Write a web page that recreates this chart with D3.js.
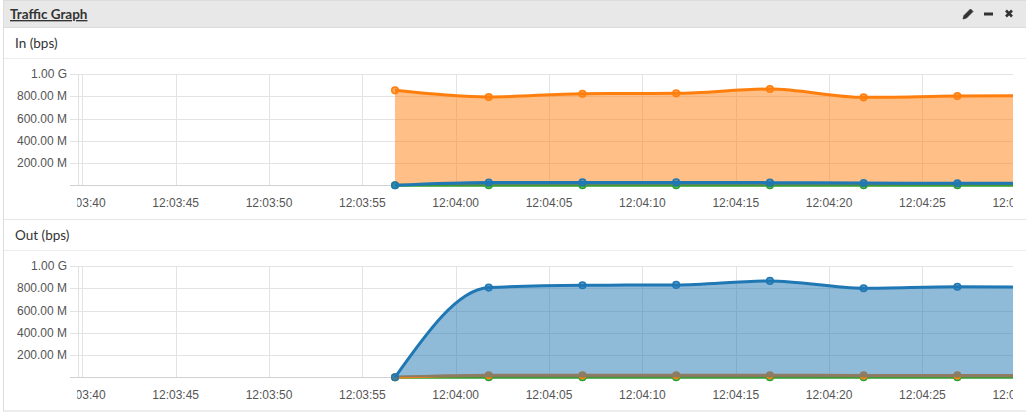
<!DOCTYPE html>
<html>
<head>
<meta charset="utf-8">
<script src="https://cdn.jsdelivr.net/npm/d3@7"></script>
<style>
  html, body { margin: 0; padding: 0; background: #fff; }
  svg { display: block; }
</style>
</head>
<body>
<svg id="chart" width="1026" height="417"></svg>
<script>
// ---------- data ----------
const sampleTimes = ["12:03:56.750", "12:04:01.770", "12:04:06.790", "12:04:11.810",
                     "12:04:16.830", "12:04:21.850", "12:04:26.870", "12:04:31.890"];
const windowStart = "12:03:39.770";
const windowEnd = "12:04:29.850";

// In (bps)
const inSeriesA = [853e6, 793e6, 823e6, 826e6, 865e6, 790e6, 802e6, 806e6]; // orange
const inSeriesB = [0, 25e6, 26e6, 26e6, 24e6, 20e6, 19e6, 19e6];             // blue
const inSeriesC = [0, 1e6, 1e6, 1e6, 1e6, 1e6, 1e6, 1e6];                    // green

// Out (bps)
const outSeriesA = [0, 18e6, 18e6, 18e6, 18e6, 17e6, 17e6, 17e6];            // orange
const outSeriesB = [0, 806e6, 827e6, 830e6, 866e6, 800e6, 814e6, 808e6];    // blue
const outSeriesC = [0, 0, 0, 0, 0, 0, 0, 0];                                 // green

const yTickValues = [200e6, 400e6, 600e6, 800e6, 1e9];
const seriesColors = ["#ff7f0e", "#1f77b4", "#2ca02c"];
const drawOrder = [2, 0, 1]; // green underneath, then orange, then blue on top
const panelTitle = "Traffic Graph";
const chartTitles = ["In (bps)", "Out (bps)"];

// ---------- drawing ----------
const parseT = d3.timeParse("%H:%M:%S.%L");
const times = sampleTimes.map(parseT);
const svg = d3.select("#chart");

// panel frame
svg.append("rect").attr("x", 3.5).attr("y", 0.5).attr("width", 1040).attr("height", 410.5)
  .attr("fill", "#fff").attr("stroke", "#dcdcdc");
svg.append("rect").attr("x", 4).attr("y", 1).attr("width", 1040).attr("height", 26)
  .attr("fill", "#e8e8e8");
svg.append("line").attr("x1", 4).attr("x2", 1030).attr("y1", 27.5).attr("y2", 27.5).attr("stroke", "#dcdcdc");
svg.append("text").attr("x", 10).attr("y", 19).text(panelTitle)
  .attr("font-family", "Lato, 'Open Sans', sans-serif").attr("font-size", 13.5).attr("font-weight", "bold")
  .attr("fill", "#333").attr("text-decoration", "underline");

// header icons
const icons = svg.append("g").attr("fill", "#333").attr("stroke", "#333");
icons.append("path").attr("d", "M963,19 L964,15.5 L970.5,9 L973,11.5 L966.5,18 Z").attr("stroke-width", 0.8);
icons.append("rect").attr("x", 984).attr("y", 12.5).attr("width", 9).attr("height", 3).attr("stroke", "none");
icons.append("path").attr("d", "M1006,10.5 L1012,16.5 M1012,10.5 L1006,16.5").attr("stroke-width", 2.6).attr("fill", "none");

const x = d3.scaleTime().domain([parseT(windowStart), parseT(windowEnd)]).range([78, 1013]);
const tickTimes = d3.timeSecond.every(5).range(parseT(windowStart), d3.timeSecond.offset(parseT(windowEnd), 5));
const fmt = d3.timeFormat("%H:%M:%S");
const yFmt = d => d >= 1e9 ? (d / 1e9).toFixed(2) + " G" : (d / 1e6).toFixed(2) + " M";

const defs = svg.append("defs");
defs.append("clipPath").attr("id", "clipX").append("rect")
  .attr("x", 77).attr("y", 0).attr("width", 936).attr("height", 417);

function drawSection(idx, sepY, titleY, lineY, y0, y1, seriesList) {
  if (sepY !== null) {
    svg.append("line").attr("x1", 4).attr("x2", 1030).attr("y1", sepY).attr("y2", sepY).attr("stroke", "#e6e6e6");
  }
  svg.append("text").attr("x", 15).attr("y", titleY).text(chartTitles[idx])
    .attr("font-family", "Lato, 'Open Sans', sans-serif").attr("font-size", 13.5).attr("fill", "#333");
  svg.append("line").attr("x1", 4).attr("x2", 1030).attr("y1", lineY).attr("y2", lineY).attr("stroke", "#ececec");

  const y = d3.scaleLinear().domain([0, 1e9]).range([y0, y1]);
  const g = svg.append("g");

  g.selectAll("line.hg").data(yTickValues).join("line")
    .attr("x1", 70).attr("x2", 1013)
    .attr("y1", d => Math.round(y(d)) + 0.5).attr("y2", d => Math.round(y(d)) + 0.5)
    .attr("stroke", "#e3e3e3");
  g.selectAll("text.yl").data(yTickValues).join("text")
    .attr("x", 67).attr("y", d => y(d)).attr("dy", "0.35em").attr("text-anchor", "end")
    .attr("font-family", "'Liberation Sans', Arial, sans-serif").attr("font-size", 12).attr("fill", "#555")
    .text(yFmt);

  const clipped = g.append("g").attr("clip-path", "url(#clipX)");
  clipped.selectAll("line.vg").data(tickTimes).join("line")
    .attr("x1", d => Math.round(x(d)) + 0.5).attr("x2", d => Math.round(x(d)) + 0.5)
    .attr("y1", Math.round(y1)).attr("y2", Math.round(y0))
    .attr("stroke", "#e3e3e3");
  g.append("line").attr("x1", 78.5).attr("x2", 78.5).attr("y1", Math.round(y1)).attr("y2", Math.round(y0))
    .attr("stroke", "#e0e0e0");
  g.append("line").attr("x1", 70).attr("x2", 1013)
    .attr("y1", Math.round(y0) + 0.5).attr("y2", Math.round(y0) + 0.5).attr("stroke", "#d0d0d0");
  clipped.selectAll("text.xl").data(tickTimes).join("text")
    .attr("x", d => x(d)).attr("y", y0 + 22).attr("text-anchor", "middle")
    .attr("font-family", "'Liberation Sans', Arial, sans-serif").attr("font-size", 12).attr("fill", "#555")
    .text(fmt);

  const plot = svg.append("g").attr("clip-path", "url(#clipPlot" + idx + ")");
  defs.append("clipPath").attr("id", "clipPlot" + idx).append("rect")
    .attr("x", 78).attr("y", y1 - 10).attr("width", 935).attr("height", (y0 - y1) + 20);

  const area = d3.area().x((d, i) => x(times[i])).y0(y(0)).y1(d => y(d)).curve(d3.curveMonotoneX);
  const line = d3.line().x((d, i) => x(times[i])).y(d => y(d)).curve(d3.curveMonotoneX);

  drawOrder.forEach(si => {
    const vals = seriesList[si];
    const c = seriesColors[si];
    const sg = plot.append("g");
    sg.append("path").attr("d", area(vals)).attr("fill", c).attr("fill-opacity", 0.5).attr("stroke", "none");
    sg.append("path").attr("d", line(vals)).attr("fill", "none").attr("stroke", c).attr("stroke-width", 3);
    sg.selectAll("circle").data(vals).join("circle")
      .attr("cx", (d, i) => x(times[i])).attr("cy", d => y(d)).attr("r", 3.3)
      .attr("fill", c).attr("fill-opacity", 0.7).attr("stroke", c).attr("stroke-width", 1.5);
  });
}

drawSection(0, null, 48, 58.5, 185.3, 74, [inSeriesA, inSeriesB, inSeriesC]);
drawSection(1, 219.5, 240, 250.5, 377.3, 266, [outSeriesA, outSeriesB, outSeriesC]);
</script>
</body>
</html>
